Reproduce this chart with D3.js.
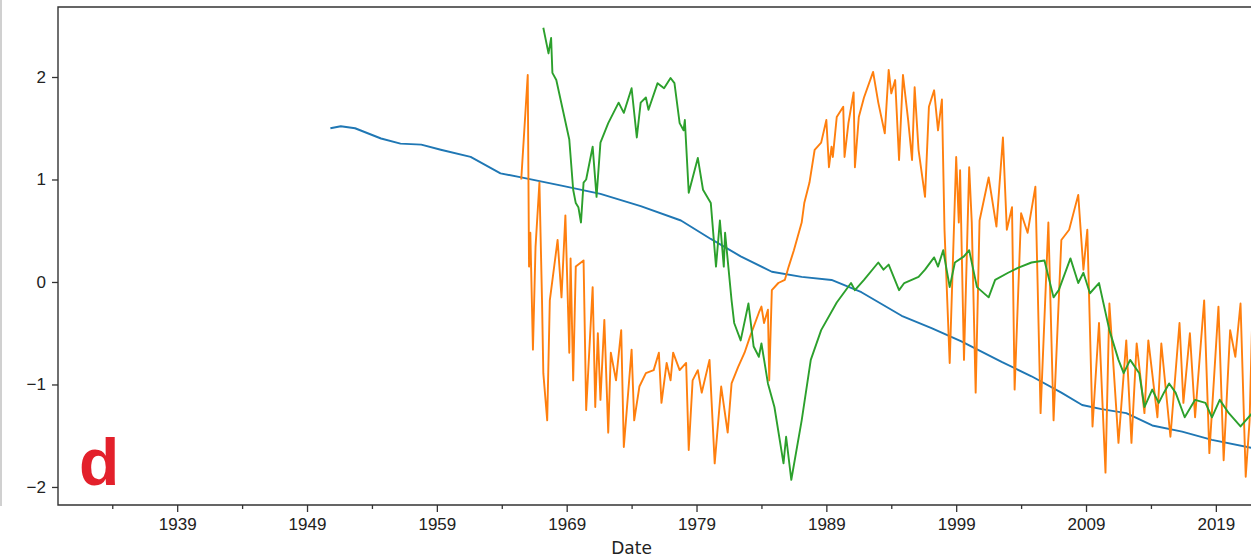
<!DOCTYPE html>
<html>
<head>
<meta charset="utf-8">
<script src="https://cdn.jsdelivr.net/npm/d3@7"></script>
<style>
  body { margin: 0; background: #fff; }
  #viz { width: 1251px; height: 559px; overflow: hidden; }
</style>
</head>
<body>
<div id="viz"></div>
<script>
// values: [decimal year, value]
const blueSeries = [
  [1950.8,1.50],[1951.6,1.52],[1952.7,1.50],[1954.7,1.40],[1956.2,1.35],[1957.8,1.34],[1959.3,1.29],
  [1961.6,1.22],[1963.9,1.06],[1965.5,1.02],[1968.6,0.94],[1971.6,0.86],[1974.7,0.74],[1977.8,0.60],
  [1980.1,0.42],[1982.4,0.25],[1984.8,0.10],[1987.1,0.05],[1989.4,0.02],[1991.7,-0.10],[1994.8,-0.33],
  [1997.1,-0.45],[1999.4,-0.58],[2002.5,-0.78],[2004.8,-0.92],[2007.1,-1.08],[2008.7,-1.20],[2010.2,-1.24],
  [2012.1,-1.28],[2014.1,-1.40],[2016.4,-1.46],[2018.7,-1.54],[2021.8,-1.62]
]

const orangeSeries = [
  [1965.5,1.0],[1966.0,2.02],[1966.1,0.15],[1966.2,0.48],[1966.4,-0.66],[1966.6,0.34],[1966.9,0.97],
  [1967.1,-0.18],[1967.2,-0.89],[1967.5,-1.35],[1967.7,-0.18],[1968.3,0.41],[1968.6,-0.15],[1968.9,0.65],
  [1969.2,-0.69],[1969.3,0.23],[1969.5,-0.96],[1969.7,0.15],[1970.3,0.21],[1970.5,-1.25],[1971.0,-0.05],
  [1971.2,-1.22],[1971.4,-0.5],[1971.6,-1.15],[1971.9,-0.37],[1972.2,-1.47],[1972.4,-0.69],[1972.8,-0.96],
  [1973.2,-0.47],[1973.4,-1.61],[1974.0,-0.66],[1974.2,-1.35],[1974.6,-1.02],[1975.1,-0.89],[1975.7,-0.86],
  [1976.1,-0.69],[1976.3,-1.18],[1976.7,-0.79],[1977.0,-0.96],[1977.2,-0.69],[1977.7,-0.86],[1978.2,-0.79],
  [1978.4,-1.64],[1978.7,-0.96],[1979.1,-0.86],[1979.4,-1.08],[1980.0,-0.76],[1980.4,-1.77],[1980.9,-1.02],
  [1981.4,-1.47],[1981.7,-0.99],[1982.2,-0.83],[1982.7,-0.69],[1983.1,-0.54],[1983.8,-0.30],[1984.0,-0.24],
  [1984.2,-0.40],[1984.5,-0.27],[1984.6,-0.96],[1984.8,-0.08],[1985.3,-0.01],[1985.8,0.02],[1986.1,0.15],
  [1986.5,0.31],[1987.1,0.58],[1987.3,0.77],[1987.7,0.97],[1988.1,1.29],[1988.6,1.36],[1989.0,1.58],
  [1989.2,1.12],[1989.4,1.32],[1989.5,1.22],[1989.8,1.61],[1990.3,1.71],[1990.4,1.22],[1990.7,1.55],
  [1991.1,1.85],[1991.2,1.12],[1991.5,1.61],[1991.9,1.80],[1992.6,2.05],[1993.0,1.75],[1993.5,1.45],
  [1993.8,2.07],[1994.0,1.84],[1994.3,1.97],[1994.6,1.19],[1994.9,2.02],[1995.3,1.58],[1995.6,1.19],
  [1995.8,1.90],[1996.1,1.29],[1996.6,0.83],[1996.9,1.71],[1997.3,1.87],[1997.6,1.48],[1997.9,1.78],
  [1998.1,0.51],[1998.5,-0.79],[1999.0,1.22],[1999.2,0.58],[1999.3,1.09],[1999.6,-0.76],[2000.0,1.12],
  [2000.2,0.58],[2000.5,-1.08],[2000.8,0.60],[2001.5,1.02],[2002.1,0.54],[2002.6,1.41],[2002.9,0.51],
  [2003.3,0.73],[2003.5,-1.05],[2004.0,0.67],[2004.5,0.48],[2005.1,0.93],[2005.5,-1.28],[2006.1,0.58],
  [2006.5,-1.35],[2007.1,0.41],[2007.7,0.51],[2008.4,0.85],[2008.8,0.12],[2009.1,0.51],[2009.5,-1.41],
  [2010.0,-0.40],[2010.5,-1.86],[2010.8,-0.21],[2011.5,-1.57],[2012.1,-0.57],[2012.5,-1.57],[2012.9,-0.6],
  [2013.5,-1.28],[2013.8,-0.57],[2014.5,-1.32],[2014.8,-0.6],[2015.5,-1.51],[2016.2,-0.40],[2016.5,-1.18],
  [2017.0,-0.5],[2017.4,-1.32],[2018.1,-0.18],[2018.5,-1.67],[2019.2,-0.24],[2019.6,-1.74],[2020.1,-0.47],
  [2020.5,-0.73],[2020.9,-0.21],[2021.3,-1.90],[2021.6,-1.35],[2021.8,-0.37]
]

const greenSeries = [
  [1967.2,2.48],[1967.6,2.23],[1967.8,2.38],[1967.9,2.04],[1968.2,1.97],[1968.7,1.68],[1969.2,1.39],
  [1969.5,0.90],[1969.7,0.77],[1969.9,0.73],[1970.1,0.58],[1970.3,0.97],[1970.5,1.0],[1971.0,1.32],
  [1971.3,0.83],[1971.6,1.36],[1972.2,1.55],[1973.0,1.75],[1973.4,1.65],[1974.0,1.89],[1974.4,1.41],
  [1974.7,1.75],[1975.1,1.80],[1975.3,1.68],[1976.0,1.94],[1976.5,1.89],[1977.0,1.99],[1977.3,1.94],
  [1977.7,1.55],[1978.0,1.48],[1978.1,1.58],[1978.4,0.87],[1979.1,1.21],[1979.5,0.90],[1980.1,0.77],
  [1980.5,0.15],[1980.8,0.60],[1981.1,0.15],[1981.2,0.48],[1981.7,-0.18],[1981.9,-0.40],[1982.4,-0.57],
  [1983.0,-0.21],[1983.4,-0.63],[1983.8,-0.73],[1984.0,-0.60],[1984.5,-0.99],[1985.0,-1.22],[1985.7,-1.77],
  [1985.9,-1.51],[1986.3,-1.93],[1987.1,-1.35],[1987.8,-0.76],[1988.6,-0.47],[1989.8,-0.20],[1990.9,-0.01],
  [1991.2,-0.08],[1991.9,0.02],[1993.0,0.19],[1993.4,0.12],[1993.8,0.17],[1994.6,-0.08],[1995.0,-0.01],
  [1996.1,0.05],[1996.6,0.12],[1997.3,0.24],[1997.6,0.15],[1998.0,0.31],[1998.5,-0.05],[1998.9,0.19],
  [1999.6,0.25],[2000.0,0.31],[2000.6,-0.05],[2001.5,-0.15],[2002.0,0.02],[2003.0,0.09],[2003.8,0.14],
  [2004.8,0.19],[2005.8,0.21],[2006.5,-0.15],[2006.9,-0.08],[2007.8,0.23],[2008.4,-0.01],[2008.8,0.09],
  [2009.3,-0.11],[2010.0,-0.01],[2010.8,-0.47],[2011.5,-0.76],[2011.9,-0.89],[2012.4,-0.76],[2013.1,-0.89],
  [2013.5,-1.22],[2014.1,-1.05],[2014.6,-1.18],[2015.0,-1.08],[2015.4,-0.99],[2015.9,-1.08],[2016.6,-1.32],
  [2017.4,-1.15],[2018.2,-1.18],[2018.7,-1.32],[2019.3,-1.15],[2020.0,-1.28],[2020.9,-1.41],[2021.8,-1.28]
]

const majorYears = [1939, 1949, 1959, 1969, 1979, 1989, 1999, 2009, 2019]
const minorYears = [1934, 1944, 1954, 1964, 1974, 1984, 1994, 2004, 2014, 2024]
const yTicks = [-2, -1, 0, 1, 2]

const width = 1251
const height = 559
const margin = {top: 7, right: -9, bottom: 54, left: 58}
const innerW = width - margin.left - margin.right
const innerH = height - margin.top - margin.bottom

const canvas = d3.select("#viz")
                 .append("svg")
                 .attr("width", width)
                 .attr("height", height)
                 .style("font-family", "'DejaVu Sans', sans-serif")

// thin grey border at the very left of the crop
canvas.append("line")
      .attr("x1", 1).attr("x2", 1)
      .attr("y1", 0).attr("y2", 506)
      .attr("stroke", "#d0d0d0")
      .attr("stroke-width", 2)

const wrapper = canvas.append("g")
                      .attr("transform", `translate(${margin.left},${margin.top})`)

const xScale = d3.scaleLinear()
                 .domain([1929.82, 2022.4])
                 .range([0, innerW])

const yScale = d3.scaleLinear()
                 .domain([-2.176, 2.683])
                 .range([innerH, 0])

wrapper.append("clipPath").attr("id", "plotclip")
       .append("rect").attr("width", innerW).attr("height", innerH)

const line = d3.line()
               .x(d => xScale(d[0]))
               .y(d => yScale(d[1]))

const lines = wrapper.append("g").attr("clip-path", "url(#plotclip)")
const series = [
  {data: blueSeries, color: "#1f77b4"},
  {data: orangeSeries, color: "#ff7f0e"},
  {data: greenSeries, color: "#2ca02c"}
]
lines.selectAll("path")
     .data(series)
     .join("path")
     .attr("d", d => line(d.data))
     .attr("fill", "none")
     .attr("stroke", d => d.color)
     .attr("stroke-width", 1.9)
     .attr("stroke-linejoin", "round")

// axes
const xAxis = d3.axisBottom(xScale)
                .tickValues(majorYears)
                .tickFormat(d3.format("d"))
                .tickSize(7)
                .tickPadding(6)
const xMinor = d3.axisBottom(xScale)
                 .tickValues(minorYears)
                 .tickFormat("")
                 .tickSize(4)
const yAxis = d3.axisLeft(yScale)
                .tickValues(yTicks)
                .tickFormat(d => d < 0 ? "\u2212" + Math.abs(d) : d)
                .tickSize(6)
                .tickPadding(6)

const gx = wrapper.append("g").attr("transform", `translate(0,${innerH})`).call(xAxis)
const gxm = wrapper.append("g").attr("transform", `translate(0,${innerH})`).call(xMinor)
const gy = wrapper.append("g").call(yAxis)

;[gx, gxm, gy].forEach(g => {
  g.select(".domain").remove()
  g.selectAll("line").attr("stroke", "#333").attr("stroke-width", 1.3)
  g.selectAll("text").attr("fill", "#222").style("font-size", "17px")
})

// frame (left, top, bottom spines)
wrapper.append("path")
       .attr("d", `M${innerW},0H0V${innerH}H${innerW}`)
       .attr("fill", "none")
       .attr("stroke", "#333")
       .attr("stroke-width", 1.4)

wrapper.append("text")
       .attr("x", xScale(1974))
       .attr("y", innerH + 49)
       .attr("text-anchor", "middle")
       .attr("fill", "#222")
       .style("font-size", "17px")
       .text("Date")

// panel letter
canvas.append("text")
      .attr("x", 79)
      .attr("y", 485)
      .attr("fill", "#e3202b")
      .style("font-family", "'Liberation Sans', Arial, sans-serif")
      .style("font-weight", "bold")
      .style("font-size", "66px")
      .text("d")
</script>
</body>
</html>
